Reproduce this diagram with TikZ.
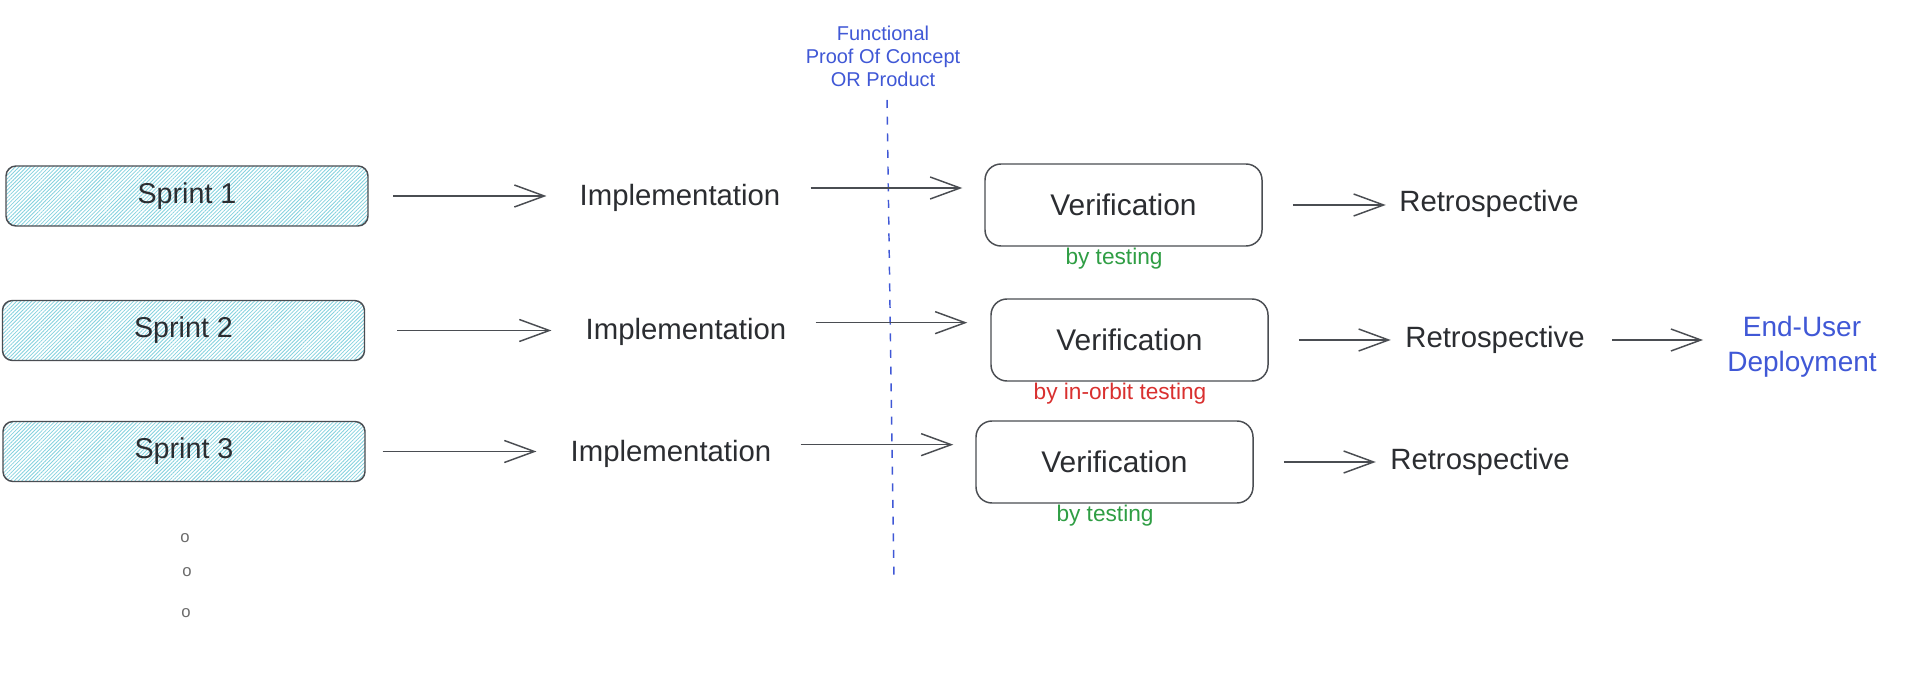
\documentclass[tikz,border=0pt]{standalone}
\usepackage{fontspec}
\setmainfont{Liberation Sans}
\usetikzlibrary{arrows.meta,patterns.meta}
\definecolor{ink}{HTML}{2B2D31}
\definecolor{stroke}{HTML}{4A4D52}
\definecolor{hatch}{HTML}{84D2DF}
\definecolor{blueink}{HTML}{4058D6}
\definecolor{greenink}{HTML}{2F9E44}
\definecolor{redink}{HTML}{D9302F}
\definecolor{dotgray}{HTML}{6B6B6B}
\begin{document}
\begin{tikzpicture}[x=0.75pt,y=-0.75pt,
 sprintbox/.style={draw=stroke, line width=1.1pt, rounded corners=7.5pt, minimum width=271.5pt, minimum height=45pt, inner sep=0pt, pattern={Lines[angle=45,distance=2pt,line width=0.6pt]}, pattern color=hatch, text=ink, font=\fontsize{21.5}{24}\selectfont},
 verbox/.style={draw=stroke, line width=1.1pt, rounded corners=12pt, minimum width=207.75pt, minimum height=61.5pt, inner sep=0pt, text=ink, font=\fontsize{22.4}{26}\selectfont},
 steptext/.style={inner sep=0pt, text=ink, font=\fontsize{22}{26}\selectfont},
 note/.style={inner sep=0pt, font=\fontsize{17}{20}\selectfont},
 arr/.style={draw=stroke, line width=1.1pt, -{Straight Barb[length=22.5pt,width=16.5pt,line width=1.1pt]}},
 dashline/.style={draw=blueink, line width=1.1pt, dash pattern=on 6pt off 6.5pt},
 dotmark/.style={inner sep=0pt, text=dotgray, font=\fontsize{12.5}{14}\selectfont},
]
\useasboundingbox[fill=white] (0,0) rectangle (1912,680);

% milestone label and dashed divider
\node[inner sep=0pt, text=blueink, align=center, font=\fontsize{15}{17.25}\selectfont] (fl) at (883,56) {Functional\\Proof Of Concept\\OR Product};
\coordinate (dtop) at (887,100);
\coordinate (dbot) at (894,583);
\draw[dashline] (dtop) -- (dbot);

% row 1
\node[sprintbox] (s1) at (187,196) {Sprint 1};
\node[steptext, minimum width=150pt] (i1) at (680,198) {Implementation};
\node[verbox] (v1) at (1123.5,205) {Verification};
\node[note, text=greenink] (t1) at (1114,259) {by testing};
\node[steptext, minimum width=141pt] (r1) at (1489,204) {Retrospective};

% row 2
\node[sprintbox] (s2) at (183.5,330.5) {Sprint 2};
\node[steptext, minimum width=150pt] (i2) at (686,332) {Implementation};
\node[verbox] (v2) at (1129.5,340) {Verification};
\node[note, text=redink] (t2) at (1120,394) {by in-orbit testing};
\node[steptext, minimum width=141pt] (r2) at (1495,340) {Retrospective};
\node[inner sep=0pt, text=blueink, align=center, minimum width=109.5pt, font=\fontsize{21}{26.25}\selectfont] (eu) at (1802,347) {End-User\\Deployment};

% row 3
\node[sprintbox] (s3) at (184,451.5) {Sprint 3};
\node[steptext, minimum width=150pt] (i3) at (671,454) {Implementation};
\node[verbox] (v3) at (1114.5,462) {Verification};
\node[note, text=greenink] (t3) at (1105,516) {by testing};
\node[steptext, minimum width=141pt] (r3) at (1480,462) {Retrospective};

% continuation dots
\node[dotmark] (o1) at (185,538) {o};
\node[dotmark] (o2) at (187,572) {o};
\node[dotmark] (o3) at (186,613) {o};

% connectors row 1
\draw[arr, shorten <=18.75pt, shorten >=24.75pt] (s1.east) -- (s1.east -| i1.west);
\coordinate (b1s) at ([yshift=7.5pt]i1.east);
\draw[arr, shorten <=22.5pt, shorten >=16.5pt] (b1s) -- (b1s -| v1.west);
\draw[arr, shorten <=22.5pt, shorten >=6.75pt] (v1.east) -- (v1.east -| r1.west);

% connectors row 2
\draw[arr, shorten <=24pt, shorten >=25.5pt] (s2.east) -- (s2.east -| i2.west);
\coordinate (b2s) at ([yshift=7pt]i2.east);
\draw[arr, shorten <=21.75pt, shorten >=17.25pt] (b2s) -- (b2s -| v2.west);
\draw[arr, shorten <=22.5pt, shorten >=7.5pt] (v2.east) -- (v2.east -| r2.west);
\draw[arr, shorten <=17.25pt, shorten >=18pt] (r2.east) -- (r2.east -| eu.west);

% connectors row 3
\draw[arr, shorten <=12.75pt, shorten >=25.5pt] (s3.east) -- (s3.east -| i3.west);
\coordinate (b3s) at ([yshift=7pt]i3.east);
\draw[arr, shorten <=21.75pt, shorten >=16.5pt] (b3s) -- (b3s -| v3.west);
\draw[arr, shorten <=22.5pt, shorten >=7.5pt] (v3.east) -- (v3.east -| r3.west);
\end{tikzpicture}
\end{document}
